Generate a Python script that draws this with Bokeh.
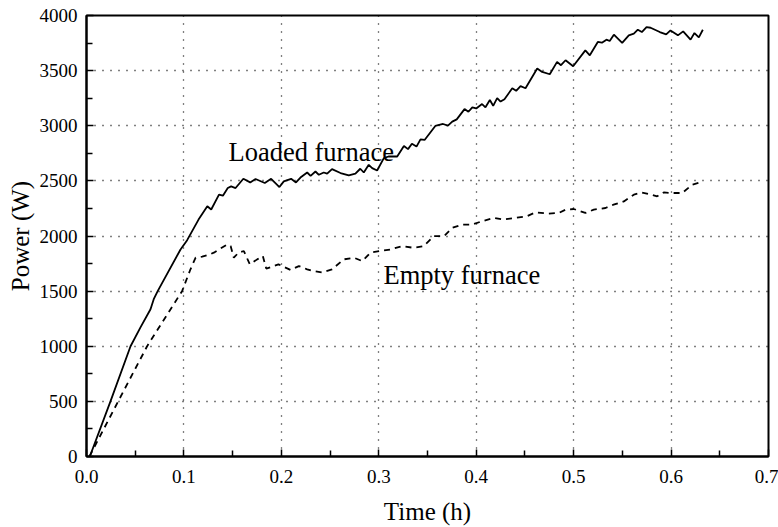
from bokeh.plotting import figure
from bokeh.models import FixedTicker, NumeralTickFormatter, Range1d, Label
from bokeh.embed import file_html
from bokeh.resources import INLINE

loaded_t = [0.0034, 0.0246, 0.0452, 0.0554, 0.0657, 0.069, 0.0732, 0.0965, 0.1033, 0.115, 0.124, 0.128,
            0.136, 0.140,
            0.145, 0.1485, 0.153, 0.161, 0.168, 0.1735, 0.183, 0.1895, 0.198, 0.2025, 0.210, 0.215,
            0.2196, 0.2265, 0.230, 0.235, 0.2385, 0.2435, 0.247, 0.252, 0.2607, 0.2692, 0.276, 0.281,
            0.2846, 0.2897, 0.2932, 0.2983, 0.3052, 0.310, 0.3189, 0.3258, 0.330, 0.334, 0.3387, 0.3428,
            0.347, 0.358, 0.366, 0.371, 0.3754, 0.380, 0.388, 0.392, 0.396, 0.400, 0.406, 0.4095,
            0.414, 0.4174, 0.4215, 0.425, 0.429, 0.437, 0.441, 0.4455, 0.4506, 0.4626, 0.4677, 0.4755,
            0.483, 0.487, 0.4917, 0.4995, 0.512, 0.5166, 0.5248, 0.529, 0.5337, 0.537, 0.5413, 0.5498,
            0.5566, 0.5618, 0.5659, 0.570, 0.5748, 0.579, 0.5884, 0.595, 0.5994, 0.607, 0.6124, 0.620,
            0.624, 0.6285, 0.6326]
loaded_p = [0, 500, 1000, 1171, 1336, 1427, 1502, 1878, 1962, 2149, 2270, 2240,
            2375, 2366,
            2435, 2450, 2435, 2519, 2486, 2517, 2481, 2519, 2444, 2495, 2519, 2486,
            2530, 2576, 2546, 2585, 2555, 2576, 2565, 2607, 2571, 2549, 2565, 2610,
            2576, 2646, 2616, 2594, 2706, 2721, 2721, 2817, 2788, 2836, 2811, 2877,
            2871, 2998, 3016, 3001, 3037, 3058, 3151, 3127, 3167, 3157, 3197, 3167,
            3233, 3181, 3250, 3219, 3241, 3340, 3317, 3359, 3340, 3519, 3488, 3467,
            3579, 3549, 3594, 3540, 3684, 3639, 3760, 3753, 3781, 3769, 3826, 3751,
            3820, 3835, 3871, 3850, 3895, 3889, 3850, 3829, 3865, 3820, 3856, 3781,
            3841, 3802, 3871]

empty_t = [0.003, 0.0325, 0.0622, 0.0982, 0.1067, 0.112, 0.1187, 0.1266, 0.1307,
           0.136, 0.1444,
           0.148, 0.1512, 0.156, 0.1615, 0.1676, 0.1752, 0.181, 0.1845, 0.192, 0.197, 0.2094, 0.218,
           0.2265, 0.2333, 0.242, 0.252, 0.264, 0.2745, 0.283, 0.2915, 0.3018, 0.312, 0.324, 0.3356,
           0.346, 0.3565, 0.367, 0.3754, 0.3856, 0.396, 0.406, 0.418, 0.428, 0.4403, 0.452, 0.461,
           0.4745, 0.4848, 0.4917, 0.500, 0.512, 0.5207, 0.5327, 0.541, 0.5515, 0.5618, 0.570, 0.580,
           0.5857, 0.5925, 0.601, 0.6114, 0.6217, 0.630]
empty_p = [0, 500, 1000, 1502, 1698, 1803, 1812, 1833, 1849,
           1878, 1923,
           1908, 1803, 1849, 1864, 1743, 1788, 1818, 1704, 1727, 1743, 1692, 1727,
           1698, 1682, 1670, 1698, 1788, 1803, 1773, 1849, 1864, 1878, 1908, 1893,
           1908, 1999, 1999, 2074, 2104, 2104, 2134, 2164, 2149, 2164, 2179, 2215,
           2203, 2209, 2239, 2245, 2209, 2239, 2254, 2284, 2314, 2375, 2395, 2375,
           2360, 2395, 2390, 2390, 2465, 2486]

x_ticks = [0.0, 0.1, 0.2, 0.3, 0.4, 0.5, 0.6, 0.7]
x_minor = [0.05, 0.15, 0.25, 0.35, 0.45, 0.55, 0.65]
y_ticks = [0, 500, 1000, 1500, 2000, 2500, 3000, 3500, 4000]
y_minor = [250, 750, 1250, 1750, 2250, 2750, 3250, 3750]

FONT = "Liberation Serif"

p = figure(width=778, height=527, output_backend="svg", toolbar_location=None,
           x_range=Range1d(0, 0.7), y_range=Range1d(0, 4000),
           min_border_left=86, min_border_right=10, min_border_top=15, min_border_bottom=69)
p.background_fill_color = "white"
p.border_fill_color = "white"
p.outline_line_color = "black"
p.outline_line_width = 2
p.outline_line_alpha = 1

p.xaxis.ticker = FixedTicker(ticks=x_ticks, minor_ticks=x_minor)
p.yaxis.ticker = FixedTicker(ticks=y_ticks, minor_ticks=y_minor)
p.xaxis.formatter = NumeralTickFormatter(format="0.0")

for ax in (p.xaxis[0], p.yaxis[0]):
    ax.axis_line_width = 2
    ax.axis_line_color = "black"
    ax.major_tick_in = 7
    ax.major_tick_out = 0
    ax.minor_tick_in = 6
    ax.minor_tick_out = 0
    ax.major_tick_line_color = "black"
    ax.minor_tick_line_color = "black"
    ax.major_tick_line_width = 1.5
    ax.minor_tick_line_width = 1.5
    ax.major_label_text_font = FONT
    ax.major_label_text_font_size = "19px"
    ax.major_label_text_color = "black"
    ax.axis_label_text_font = FONT
    ax.axis_label_text_font_size = "25px"
    ax.axis_label_text_font_style = "normal"
    ax.axis_label_text_color = "black"

p.xaxis.axis_label = "Time (h)"
p.yaxis.axis_label = "Power (W)"
p.xaxis.major_label_standoff = 13
p.yaxis.major_label_standoff = 9
p.xaxis.axis_label_standoff = 12
p.yaxis.axis_label_standoff = 3

for g in (p.xgrid[0], p.ygrid[0]):
    g.grid_line_color = "black"
    g.grid_line_dash = "1 7"
    g.grid_line_width = 1.3

p.line(loaded_t, loaded_p, line_color="black", line_width=1.8)
p.line(empty_t, empty_p, line_color="black", line_width=1.8, line_dash="6 5")

p.add_layout(Label(x=0.1457, y=2763, text="Loaded furnace", text_font=FONT,
                   text_font_size="26.5px", text_color="black", text_baseline="middle"))
p.add_layout(Label(x=0.3048, y=1643, text="Empty furnace", text_font=FONT,
                   text_font_size="26.5px", text_color="black", text_baseline="middle"))

open("out.html", "w").write(file_html(p, INLINE))
